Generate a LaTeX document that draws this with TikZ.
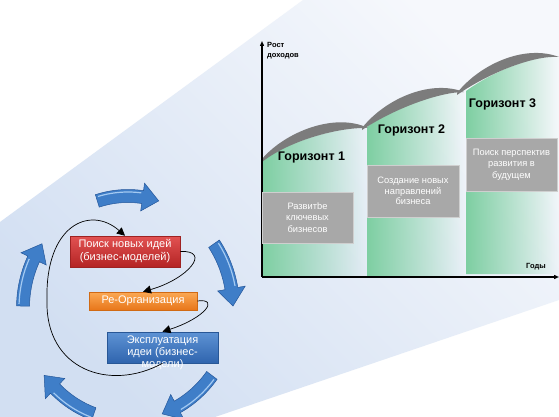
\documentclass[tikz,border=0pt]{standalone}
\usepackage{fontspec}
\setmainfont{Liberation Sans}
\usetikzlibrary{arrows.meta,shadows,fadings}
\definecolor{bgA}{HTML}{D2DFF2}
\definecolor{bgB}{HTML}{F6F8FC}
\definecolor{colG}{HTML}{7ECFA2}
\definecolor{cresC}{HTML}{7C7C7C}
\definecolor{boxG}{HTML}{A8A8A8}
\definecolor{boxGe}{HTML}{CFCFCF}
\definecolor{cycBlue}{HTML}{3F7EC8}
\definecolor{cycDark}{HTML}{25579A}
\definecolor{cycLight}{HTML}{A4CAF2}
\definecolor{redT}{HTML}{E25252}
\definecolor{redB}{HTML}{B42424}
\definecolor{redE}{HTML}{9E2222}
\definecolor{orT}{HTML}{FBA954}
\definecolor{orB}{HTML}{E8761A}
\definecolor{orE}{HTML}{D06A14}
\definecolor{blT}{HTML}{5E93D4}
\definecolor{blB}{HTML}{2F64AE}
\definecolor{blE}{HTML}{285796}
\newcommand\cycarrow[1]{%
  \pgfmathsetmacro\cyA{#1+17}%
  \pgfmathsetmacro\cyB{#1-17}%
  \pgfmathsetmacro\cyH{#1-8}%
  \pgfmathsetmacro\cyAa{#1+16}%
  \pgfmathsetmacro\cyHa{#1-7}%
  \filldraw[cyc] plot[domain=\cyA:\cyH,samples=16] ({128+111.5*cos(\x)},{308-118.5*sin(\x)})
    -- ({128+119*cos(\cyH)},{308-126*sin(\cyH)})
    -- ({128+105*cos(\cyB)},{308-112*sin(\cyB)})
    -- ({128+91*cos(\cyH)},{308-98*sin(\cyH)})
    -- plot[domain=\cyH:\cyA,samples=16] ({128+98.5*cos(\x)},{308-105.5*sin(\x)})
    -- cycle;
  \draw[cychl] plot[domain=\cyAa:\cyHa,samples=16] ({128+109*cos(\x)},{308-116*sin(\x)});
}
\begin{document}
\begin{tikzpicture}[x=1pt,y=-1pt,
  cyc/.style={fill=cycBlue,draw=cycDark,line width=0.5pt},
  cychl/.style={draw=cycLight,line width=1.2pt},
  cres/.style={fill=cresC},
  graybox/.style={draw=boxGe,fill=boxG,line width=0.8pt,text=white,align=center,inner sep=0pt,
    font=\fontsize{9.3}{11.5}\selectfont,drop shadow={shadow xshift=1pt,shadow yshift=-1.2pt,opacity=0.35}},
  horizon/.style={font=\fontsize{12.5}{14}\selectfont\bfseries,inner sep=0pt},
  small/.style={font=\fontsize{7.5}{10}\selectfont\bfseries,inner sep=0pt,align=left},
  axis/.style={draw=black,line width=1.3pt,-{Triangle[length=5pt,width=4pt]}},
  cbox/.style={inner sep=0pt,text=white,align=center,font=\fontsize{11}{13}\selectfont,line width=0.6pt,
    drop shadow={shadow xshift=1pt,shadow yshift=-1.2pt,opacity=0.3}},
  conn/.style={draw=black,line width=0.7pt,-{Triangle[length=8pt,width=8pt]}}]
\useasboundingbox (0,0) rectangle (559,417);
\fill[white] (0,0) rectangle (559,417);
\shade[top color=bgB,bottom color=bgA,shading angle=-45]
  (0,222) -- (303,0) -- (559,0) -- (559,300) -- (215,417) -- (0,417) -- cycle;
% green columns
\fill[colG,path fading=east] (262,277) -- (262,161) .. controls (290,140) and (340,127) .. (368,128) -- (368,277) -- cycle;
\fill[colG,path fading=east] (367,277) -- (367,127) .. controls (395,106) and (440,92) .. (465,92) -- (465,277) -- cycle;
\fill[colG,path fading=east] (466,274) -- (466,91) .. controls (495,70) and (535,55) .. (559,57) -- (559,274) -- cycle;
% crescents
\fill[cres] (262,159) .. controls (285,132) and (335,112) .. (368,128) .. controls (340,127) and (290,140) .. (262,162) -- cycle;
\fill[cres] (362,128) .. controls (385,99) and (430,79) .. (464,92) .. controls (440,92) and (395,108) .. (362,130) -- cycle;
\fill[cres] (457,93) .. controls (480,64) and (525,44) .. (559,57) .. controls (535,55) and (490,72) .. (457,95) -- cycle;
% axes
\coordinate (O) at (262,277);
\coordinate (ytop) at (262,41);
\coordinate (xend) at (559,277);
\draw[axis] (O) -- (ytop);
\draw[axis] (O) -- (xend);
\node[small,anchor=west] (ylab) at (267,51) {Рост\\доходов};
\node[small,anchor=west] (xlab) at (526,267) {Годы};
% horizon labels
\node[horizon] (h1) at (311.5,157) {Горизонт 1};
\node[horizon] (h2) at (411.5,130) {Горизонт 2};
\node[horizon] (h3) at (502.5,104) {Горизонт 3};
% gray boxes
\node[graybox,minimum width=91pt,minimum height=51pt] (g1) at (307.5,217.5) {Развитbe\\ключевых\\бизнесов};
\node[graybox,minimum width=92pt,minimum height=52pt,font=\fontsize{9.3}{10.5}\selectfont] (g2) at (413,191) {Создание новых\\направлений\\бизнеса};
\node[graybox,minimum width=91pt,minimum height=53pt] (g3) at (511.5,164.5) {Поиск перспектив\\развития в\\будущем};
% cycle arrows
\cycarrow{90}
\cycarrow{18}
\cycarrow{-54}
\cycarrow{-126}
\cycarrow{162}
% process boxes
\node[cbox,draw=redE,top color=redT,bottom color=redB,minimum width=110pt,minimum height=31pt] (red) at (125,251.5) {Поиск новых идей\\(бизнес-моделей)};
\node[cbox,draw=orE,top color=orT,bottom color=orB,minimum width=108pt,minimum height=18pt] (orange) at (143,301) {Ре-Организация};
\node[cbox,draw=blE,top color=blT,bottom color=blB,minimum width=111pt,minimum height=31pt] (blue) at (162.5,347.5) {};
\node[inner sep=0pt,text=white,align=center,font=\fontsize{11}{12}\selectfont] (bluetext) at (162.5,353) {Эксплуатация\\идеи (бизнес-\\модели)};
% connectors
\draw[conn] (blue.south) .. controls (110,392) and (45,370) .. (47,300) .. controls (45,225) and (90,205) .. (red.north);
\draw[conn] (red.east) .. controls (212,250) and (188,279) .. (orange.north);
\draw[conn] (orange.east) .. controls (220,298) and (205,318) .. (blue.north);
\end{tikzpicture}
\end{document}
